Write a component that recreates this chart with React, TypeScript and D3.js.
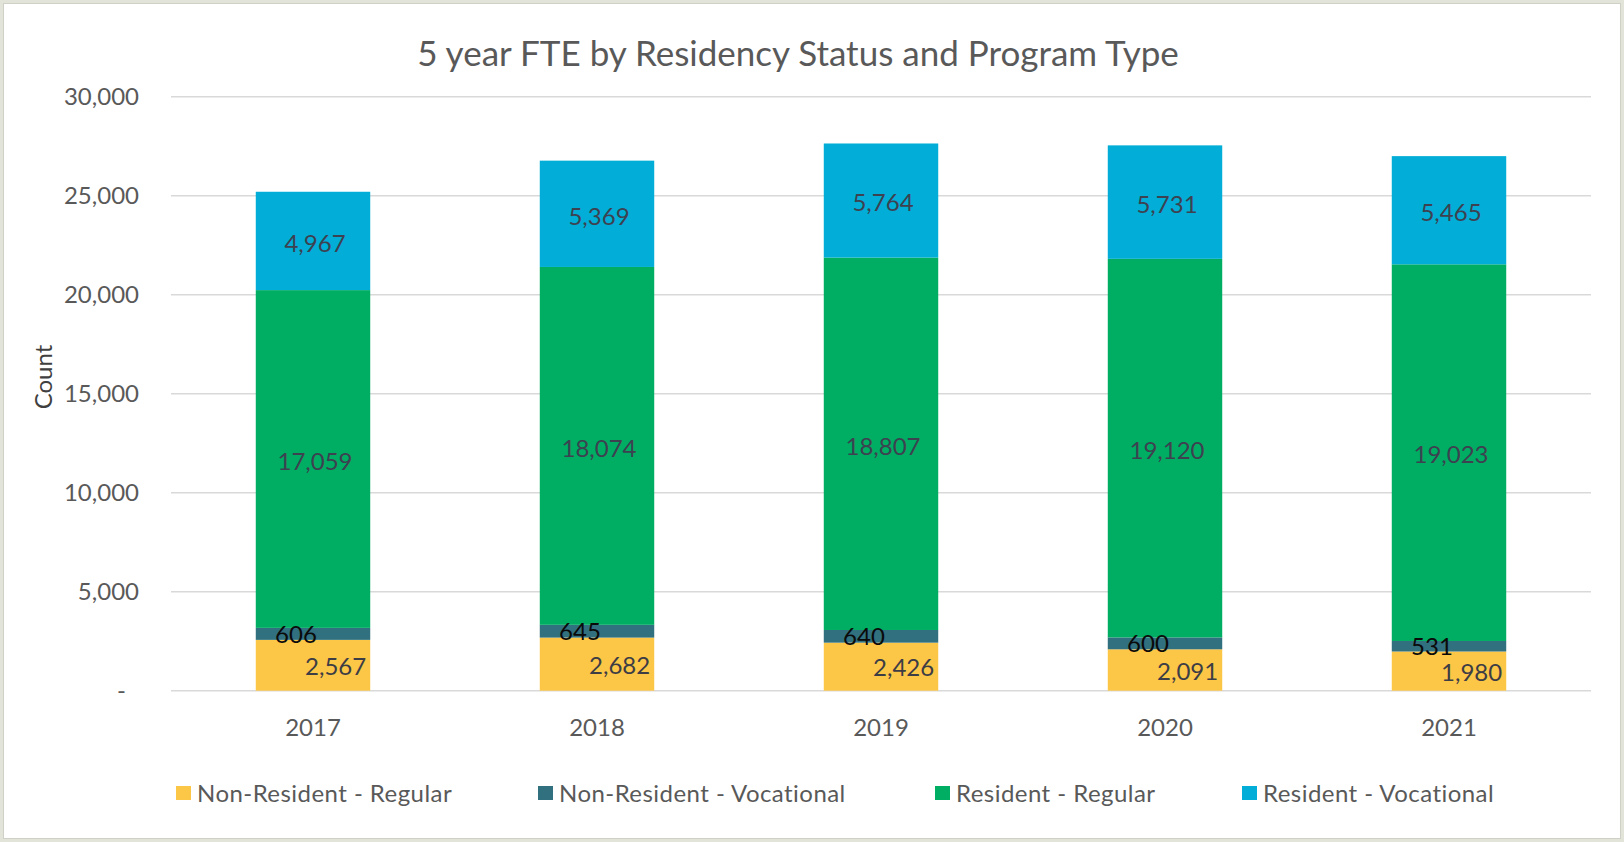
import React from "react";
import * as d3 from "d3";

const years = ["2017", "2018", "2019", "2020", "2021"];
const seriesNames = [
  "Non-Resident - Regular",
  "Non-Resident - Vocational",
  "Resident - Regular",
  "Resident - Vocational",
];
const nonResidentRegular = [2567, 2682, 2426, 2091, 1980];
const nonResidentVocational = [606, 645, 640, 600, 531];
const residentRegular = [17059, 18074, 18807, 19120, 19023];
const residentVocational = [4967, 5369, 5764, 5731, 5465];
const yTicks = [0, 5000, 10000, 15000, 20000, 25000, 30000];
const colors = ["#FCC646", "#31707E", "#00AE63", "#02AED7"];

const W = 1624;
const H = 842;
const FONT = "Lato, 'Open Sans', sans-serif";

export default function App() {
  const rows = years.map((y, i) => ({
    year: y,
    [seriesNames[0]]: nonResidentRegular[i],
    [seriesNames[1]]: nonResidentVocational[i],
    [seriesNames[2]]: residentRegular[i],
    [seriesNames[3]]: residentVocational[i],
  }));
  const stack = d3.stack<any>().keys(seriesNames)(rows);

  const x = d3
    .scaleBand<string>()
    .domain(years)
    .range([171, 1591])
    .paddingInner(0.597)
    .paddingOuter(0.597 / 2);
  const y = d3.scaleLinear().domain([0, 30000]).range([690.7, 96.7]);
  const fmt = d3.format(",");

  const legendX = [176, 538, 935, 1242];

  return (
    <svg
      width={W}
      height={H}
      style={{ position: "absolute", left: 0, top: 0 }}
      fontFamily={FONT}
    >
      <rect x={0} y={0} width={W} height={H} fill="#e3e4d9" />
      <rect x={3.5} y={3.5} width={W - 7} height={H - 7} fill="#ffffff" stroke="#cfd0c6" strokeWidth={1} />

      <text x={798} y={66} textAnchor="middle" fontSize={35} fill="#595959">
        5 year FTE by Residency Status and Program Type
      </text>

      {yTicks.map((t) => (
        <g key={t}>
          <line x1={171} x2={1591} y1={y(t)} y2={y(t)} stroke="#d9d9d9" strokeWidth={1.5} />
          <text
            x={t === 0 ? 126 : 139}
            y={y(t)}
            dy="0.36em"
            textAnchor="end"
            fontSize={24}
            fill="#595959"
          >
            {t === 0 ? "-" : fmt(t)}
          </text>
        </g>
      ))}

      <text
        transform="translate(52,377) rotate(-90)"
        textAnchor="middle"
        fontSize={24}
        fill="#404040"
      >
        Count
      </text>

      {stack.map((s, si) =>
        s.map((d, i) => (
          <rect
            key={si + "-" + i}
            x={x(years[i])}
            y={y(d[1])}
            width={x.bandwidth()}
            height={y(d[0]) - y(d[1])}
            fill={colors[si]}
          />
        ))
      )}

      {stack.map((s, si) =>
        s.map((d, i) => {
          const cx = (x(years[i]) as number) + x.bandwidth() / 2;
          const cy = (y(d[0]) + y(d[1])) / 2;
          const v = d[1] - d[0];
          if (si === 0) {
            return (
              <text key={"l" + si + i} x={(x(years[i]) as number) + x.bandwidth() - 4} y={cy} dy="0.4em" textAnchor="end" fontSize={24} fill="#3d3d45">
                {fmt(v)}
              </text>
            );
          }
          if (si === 1) {
            return (
              <text key={"l" + si + i} x={cx - 17} y={cy} dy="0.38em" textAnchor="middle" fontSize={24} fill="#0a0a0a">
                {fmt(v)}
              </text>
            );
          }
          return (
            <text key={"l" + si + i} x={cx + 2} y={cy} dy="0.45em" textAnchor="middle" fontSize={24} fill="#3d4150">
              {fmt(v)}
            </text>
          );
        })
      )}

      {years.map((yr) => (
        <text
          key={yr}
          x={(x(yr) as number) + x.bandwidth() / 2}
          y={727}
          dy="0.36em"
          textAnchor="middle"
          fontSize={24}
          fill="#595959"
        >
          {yr}
        </text>
      ))}

      {seriesNames.map((n, i) => (
        <g key={n}>
          <rect x={legendX[i]} y={786} width={15} height={14} fill={colors[i]} />
          <text x={legendX[i] + 21} y={793} dy="0.36em" fontSize={24} letterSpacing={0.45} fill="#595959">
            {n}
          </text>
        </g>
      ))}
    </svg>
  );
}
